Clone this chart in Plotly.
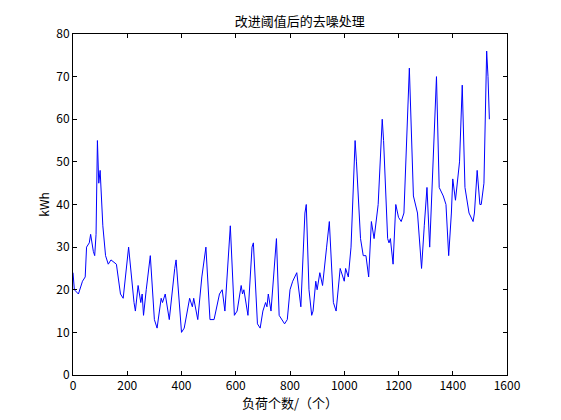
import plotly.graph_objects as go

# local extrema
x = [0, 5, 20, 35, 45, 50, 60, 65, 75, 80, 85, 90, 95, 100, 110, 120, 130, 140, 160, 175, 185, 200, 205,
     225, 230, 240, 250, 255, 260, 270, 280, 285, 300, 310, 325, 330, 340, 355, 375, 380, 400, 410, 430,
     440, 445, 460, 475, 490, 505, 520, 540, 550, 560, 575, 580, 595, 605, 620, 625, 630, 645, 660, 665,
     680, 690, 700, 710, 715, 720, 730, 745, 750, 760, 780, 790, 800, 810, 825, 840, 855, 860, 870, 880,
     885, 895, 900, 910, 920, 935, 945, 960, 970, 985, 990, 1000, 1005, 1015, 1025, 1040, 1045, 1060,
     1070, 1080, 1090, 1095, 1100, 1110, 1125, 1140, 1145, 1160, 1165, 1170, 1180, 1190, 1200, 1210, 1220,
     1240, 1255, 1270, 1285, 1295, 1305, 1315, 1330, 1340, 1350, 1365, 1375, 1385, 1395, 1400, 1410, 1425,
     1435, 1445, 1460, 1475, 1480, 1490, 1500, 1505, 1515, 1525, 1530, 1535]
y = [24, 20, 19, 22, 23, 30, 31, 33, 29, 28, 33, 55, 45, 48, 35, 28, 26, 27, 26, 19, 18, 28, 30,
     17, 15, 21, 17, 19, 14, 20, 26, 28, 13, 11, 18, 17, 19, 13, 25, 27, 10, 11, 18,
     16, 18, 13, 23, 30, 13, 13, 19, 20, 15, 32, 35, 14, 15, 21, 19, 20, 14, 30, 31,
     12, 11, 15, 17, 16, 19, 15, 29, 32, 14, 12, 13, 20, 22, 24, 16, 38, 40, 20, 14,
     15, 22, 20, 24, 21, 30, 36, 17, 15, 25, 24, 22, 25, 23, 30, 55, 50, 32,
     28, 28, 23, 30, 36, 32, 40, 60, 55, 32, 31, 32, 26, 40, 37, 36, 38,
     72, 42, 38, 25, 35, 44, 30, 55, 70, 44, 42, 40, 28, 38, 46, 41, 50,
     68, 44, 38, 36, 38, 48, 40, 40, 45, 76, 70, 60]

fig = go.Figure(go.Scatter(x=x, y=y, mode="lines", line=dict(color="#0000ff", width=1)))

ax = dict(showgrid=False, zeroline=False, showline=True, mirror="ticks", linecolor="black",
          ticks="inside", ticklen=4, tickcolor="black", tickfont=dict(size=12, color="black"),
          automargin=False)
fig.update_layout(
    width=561, height=420, plot_bgcolor="white", paper_bgcolor="white",
    margin=dict(l=65, r=62, t=26, b=53),
    font=dict(family="Noto Sans CJK SC, sans-serif", color="black"),
    title=dict(text="改进阈值后的去噪处理", x=0.52, y=0.978, yanchor="top", xanchor="center", font=dict(size=13)),
    showlegend=False,
    xaxis=dict(ax, range=[0, 1600], dtick=200, title=dict(text="负荷个数/（个）", standoff=2, font=dict(size=13))),
    yaxis=dict(ax, range=[0, 80], dtick=10, title=dict(text="kWh", standoff=4, font=dict(size=12))),
)
fig.write_html("out.html")
